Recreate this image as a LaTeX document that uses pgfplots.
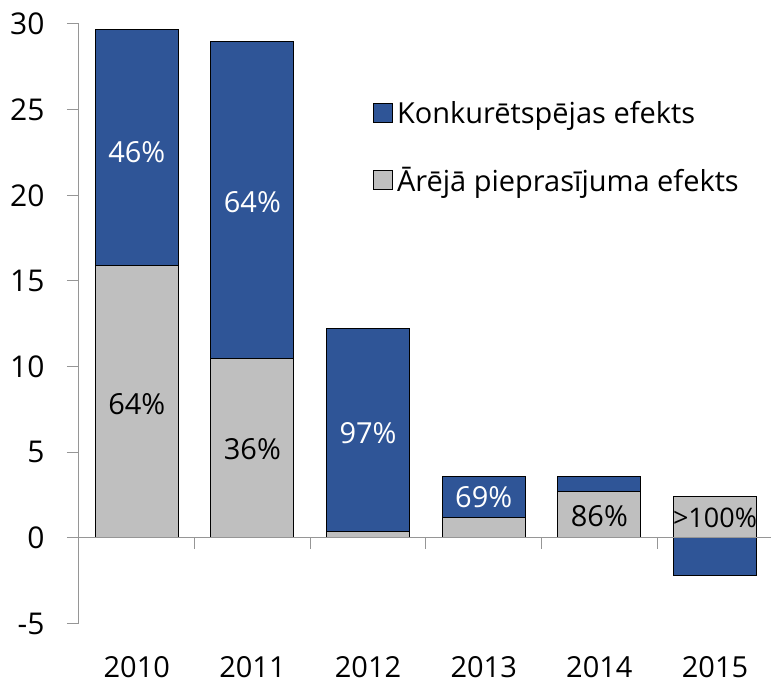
\documentclass[border=0pt]{standalone}
\usepackage{fontspec}
\setmainfont{Open Sans}
\usepackage{pgfplots}
\pgfplotsset{compat=1.18}
\definecolor{bluebar}{RGB}{47,85,151}
\definecolor{graybar}{RGB}{191,191,191}
\definecolor{axgray}{RGB}{150,150,150}
\begin{document}
\begin{tikzpicture}[font=\fontsize{29}{35}\selectfont]
\begin{axis}[
  scale only axis, width=692pt, height=600pt,
  xmin=-0.5, xmax=5.48, ymin=-5, ymax=30,
  clip=false,
  axis y line*=left,
  axis x line*=bottom,
  x axis line style={draw=none},
  y axis line style={axgray, line width=1pt},
  xtick={0,1,2,3,4,5},
  xticklabels={2010,2011,2012,2013,2014,2015},
  xtick style={draw=none},
  xticklabel style={yshift=-17pt},
  ytick={-5,0,5,10,15,20,25,30},
  yticklabels={-5,0,5,10,15,20,25,30},
  ytick style={axgray, line width=1pt},
  tick align=outside,
  major tick length=12pt,
  yticklabel style={xshift=-19pt, font=\fontsize{30}{36}\selectfont},
  legend cell align=left,
  legend style={draw=none, fill=none, at={(0.425,0.878)}, anchor=north west,
    inner sep=0pt, row sep=34pt, nodes={inner sep=4pt}},
  legend image code/.code={\draw[#1, line width=1pt] (0pt,-9.5pt) rectangle (19pt,9.5pt);},
]
\addplot[ybar, bar width=83pt, bar shift=0pt, fill=bluebar, draw=black, line width=1pt]
  coordinates {(0,29.7) (1,29.0) (2,12.2) (3,3.6) (4,3.6) (5,-2.2)};
\addlegendentry{Konkurētspējas efekts}
\addplot[ybar, bar width=83pt, bar shift=0pt, fill=graybar, draw=black, line width=1pt]
  coordinates {(0,15.9) (1,10.5) (2,0.4) (3,1.2) (4,2.7) (5,2.4)};
\addlegendentry{Ārējā pieprasījuma efekts}
\draw[axgray, line width=1pt] (axis cs:-0.5,0) -- (axis cs:5.48,0);
\draw[axgray, line width=1pt] (axis cs:-0.5,0) -- ([yshift=-11pt]axis cs:-0.5,0);
\draw[axgray, line width=1pt] (axis cs:0.5,0) -- ([yshift=-11pt]axis cs:0.5,0);
\draw[axgray, line width=1pt] (axis cs:1.5,0) -- ([yshift=-11pt]axis cs:1.5,0);
\draw[axgray, line width=1pt] (axis cs:2.5,0) -- ([yshift=-11pt]axis cs:2.5,0);
\draw[axgray, line width=1pt] (axis cs:3.5,0) -- ([yshift=-11pt]axis cs:3.5,0);
\draw[axgray, line width=1pt] (axis cs:4.5,0) -- ([yshift=-11pt]axis cs:4.5,0);
\node[white] at (axis cs:0,22.5) {46\%};
\node[black] at (axis cs:0,7.8) {64\%};
\node[white] at (axis cs:1,19.6) {64\%};
\node[black] at (axis cs:1,5.2) {36\%};
\node[white] at (axis cs:2,6.1) {97\%};
\node[white] at (axis cs:3,2.4) {69\%};
\node[black] at (axis cs:4,1.25) {86\%};
\node[black, font=\fontsize{27}{32}\selectfont] at (axis cs:5,1.2) {>100\%};
\coordinate (O) at (axis cs:-0.5,-5);
\end{axis}
\path (O) ++(-79pt,-60pt) rectangle ++(771pt,684pt);
\end{tikzpicture}
\end{document}
